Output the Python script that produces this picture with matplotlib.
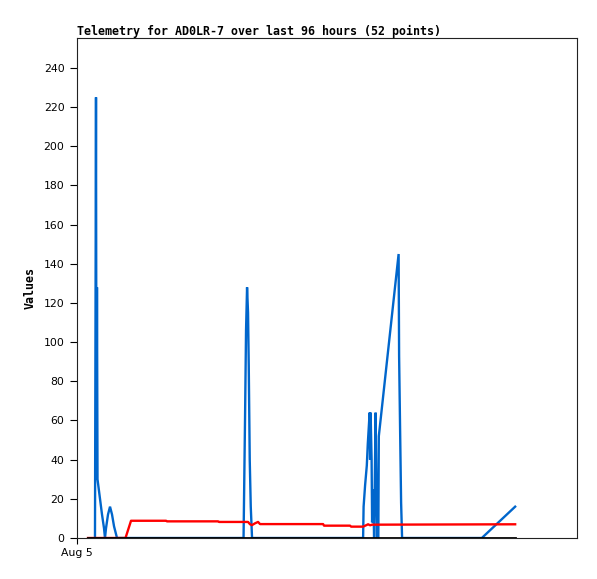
import matplotlib
matplotlib.use("Agg")
import matplotlib.pyplot as plt

title = "Telemetry for AD0LR-7 over last 96 hours (52 points)"
y_label = "Values"
x_tick_label = "Aug 5"
y_ticks = list(range(0, 241, 20))

# hours since first point
blue_t = [1.57, 1.69, 1.80, 1.91, 2.02, 2.14, 2.25, 2.70, 3.15, 3.60, 3.82, 4.05, 4.50, 4.95,
          5.40, 5.85, 6.52, 34.96, 35.07, 35.30, 35.52, 35.75, 35.97, 36.13, 36.35, 36.58,
          36.87, 61.83, 61.94, 62.28, 62.66, 62.88, 63.17, 63.29, 63.40, 63.51, 63.74, 63.85,
          64.08, 64.30, 64.64, 64.87, 64.97, 65.25, 65.36, 69.81, 69.92, 70.14, 70.37, 70.59,
          88.51, 96.0]
blue_v = [0, 112, 225, 30, 128, 30, 28, 20, 12, 5, 0, 5, 12, 16,
          12, 6, 0, 0, 20, 62, 106, 128, 115, 88, 40, 16,
          0, 0, 16, 27, 37, 48, 59, 64, 40, 64, 40, 8,
          25, 0, 64, 15, 0, 0, 52, 145, 93, 56, 18, 0,
          0, 16]

red_t = [0.0, 8.43, 9.67, 17.54, 17.76, 29.23, 29.45, 35.97, 36.42, 36.87, 37.54, 38.22,
         38.67, 52.83, 53.06, 58.90, 59.13, 61.83, 62.50, 62.95, 63.40, 63.85, 96.0]
red_v = [0, 0, 8.8, 8.8, 8.5, 8.5, 8.2, 8.2, 7.0, 6.6, 7.5, 8.2,
         7.1, 7.1, 6.3, 6.3, 5.8, 5.8, 6.5, 7.0, 6.5, 6.8, 7.0]

black_t = [0.0, 96.0]
black_v = [0, 0]

x_min, x_max = -2.47, 109.9
y_min, y_max = 0, 255.3

fig = plt.figure(figsize=(5.97, 5.79), dpi=100)
ax = fig.add_axes([77/597, 41/579, 500/597, 500/579])

ax.plot(blue_t, blue_v, color="#0066cc", lw=1.7, solid_joinstyle="miter")
ax.plot(red_t, red_v, color="#ff0000", lw=1.7)
ax.plot(black_t, black_v, color="#000000", lw=2.0)

ax.set_xlim(x_min, x_max)
ax.set_ylim(y_min, y_max)
ax.set_yticks(y_ticks)
ax.set_yticklabels([str(v) for v in y_ticks], fontsize=7.8, family="DejaVu Sans")
ax.set_xticks([x_min])
ax.set_xticklabels([x_tick_label], fontsize=7.8, family="DejaVu Sans")
ax.tick_params(axis="both", direction="out", length=5, width=0.8, pad=4)
ax.tick_params(axis="x", length=4, pad=3)

for s in ax.spines.values():
    s.set_linewidth(0.8)
    s.set_color("#222222")

ax.set_ylabel(y_label, fontsize=8.4, family="DejaVu Sans Mono", fontweight="bold")
ax.yaxis.set_label_coords(-0.08, 0.5)
ax.set_title(title, loc="left", fontsize=8.4, family="DejaVu Sans Mono", fontweight="bold", pad=2.5)

fig.savefig("out.png", dpi=100)
